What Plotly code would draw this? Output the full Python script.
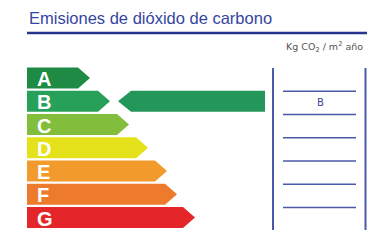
import plotly.graph_objects as go

# ---- data ----
grades = ["A", "B", "C", "D", "E", "F", "G"]
arrow_lengths = [63, 83, 102, 121, 140, 150, 168]
grade_colors = ["#1f8a44", "#27a159", "#82bd3c", "#e5e21c", "#f29a2c", "#ee7a2b", "#e4262b"]
rating = "B"
title_text = "Emisiones de dióxido de carbono"
unit_text = "Kg CO<sub>2</sub> / m<sup>2</sup> año"

# ---- layout geometry (pixel-like data space) ----
W, H = 367, 243
x0 = 27
row0 = 78
pitch = 23.25
half_h = 10.5
head = 12

fig = go.Figure()

def arrow_right(xs, length, yc):
    xe = xs + length
    xb = xe - head
    return ([xs, xb, xe, xb, xs, xs],
            [yc - half_h, yc - half_h, yc, yc + half_h, yc + half_h, yc - half_h])

for i, (g, L, c) in enumerate(zip(grades, arrow_lengths, grade_colors)):
    yc = row0 + i * pitch
    xs, ys = arrow_right(x0, L, yc)
    fig.add_trace(go.Scatter(x=xs, y=ys, fill="toself", fillcolor=c, mode="lines",
                             line=dict(width=0, color=c), hoverinfo="skip", showlegend=False))
    fig.add_annotation(x=x0 + 8, y=yc + 1, text="<b>%s</b>" % g, showarrow=False,
                       xanchor="left", yanchor="middle",
                       font=dict(family="Liberation Sans, Arial", size=20, color="white"))

# indicator arrow pointing left at the rating row
ri = grades.index(rating)
yc = row0 + ri * pitch
tip_x, end_x = 118, 265
fig.add_trace(go.Scatter(
    x=[tip_x, tip_x + 13, end_x, end_x, tip_x + 13, tip_x],
    y=[yc, yc - half_h, yc - half_h, yc + half_h, yc + half_h, yc],
    fill="toself", fillcolor="#23975a", mode="lines", line=dict(width=0, color="#23975a"),
    hoverinfo="skip", showlegend=False))

# title & rule
fig.add_annotation(x=x0, y=18, text=title_text, showarrow=False, xanchor="left", yanchor="middle",
                   font=dict(family="Liberation Sans, Arial", size=16.5, color="#3446a0"))
fig.add_shape(type="line", x0=x0, x1=W, y0=33, y1=33, line=dict(color="#26368f", width=2.5))
fig.add_annotation(x=365, y=47, text=unit_text, showarrow=False, xanchor="right", yanchor="middle",
                   font=dict(family="DejaVu Sans", size=9.5, color="#555555"))

# right box
box_col = "#4b59a9"
for xv in (273, 365.5):
    fig.add_shape(type="line", x0=xv, x1=xv, y0=68, y1=230, line=dict(color=box_col, width=2))
for i in range(len(grades) - 1):
    yl = row0 + (i + 0.5) * pitch + 1.5
    fig.add_shape(type="line", x0=283, x1=356, y0=yl, y1=yl, line=dict(color=box_col, width=1.5))
fig.add_annotation(x=320, y=row0 + ri * pitch + 1, text=rating, showarrow=False,
                   xanchor="center", yanchor="middle",
                   font=dict(family="DejaVu Sans", size=10, color="#3a4690"))

fig.update_layout(
    width=W, height=H, margin=dict(l=0, r=0, t=0, b=0),
    paper_bgcolor="white", plot_bgcolor="white",
    xaxis=dict(range=[0, W], visible=False, fixedrange=True),
    yaxis=dict(range=[H, 0], visible=False, fixedrange=True),
)
fig.write_html("out.html", config={"displayModeBar": False},
               post_script="document.body.style.margin='0';document.body.style.overflow='hidden';")
